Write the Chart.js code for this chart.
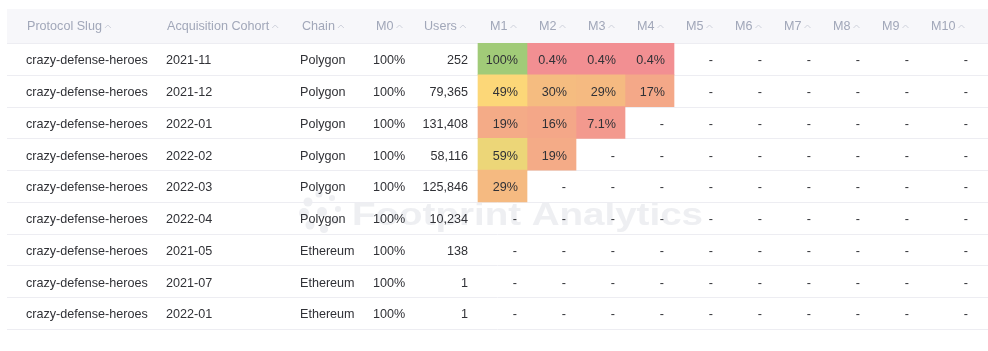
<!DOCTYPE html>
<html>
<head>
<meta charset="utf-8">
<script src="https://cdn.jsdelivr.net/npm/chart.js@4"></script>
<style>
  html,body{margin:0;padding:0;background:#fff;}
  #wrap{width:988px;height:351px;}
</style>
</head>
<body>
<div id="wrap"><canvas id="retention" width="988" height="351"></canvas></div>
<script>
// table data
const slugs   = ['crazy-defense-heroes','crazy-defense-heroes','crazy-defense-heroes','crazy-defense-heroes','crazy-defense-heroes','crazy-defense-heroes','crazy-defense-heroes','crazy-defense-heroes','crazy-defense-heroes'];
const cohorts = ['2021-11','2021-12','2022-01','2022-02','2022-03','2022-04','2021-05','2021-07','2022-01'];
const chains  = ['Polygon','Polygon','Polygon','Polygon','Polygon','Polygon','Ethereum','Ethereum','Ethereum'];
const m0      = [100,100,100,100,100,100,100,100,100];
const users   = [252,79365,131408,58116,125846,10234,138,1,1];
// retention by month (% of cohort), null = no data
const m1  = [100, 49, 19, 59, 29, null, null, null, null];
const m2  = [0.4, 30, 16, 19, null, null, null, null, null];
const m3  = [0.4, 29, 7.1, null, null, null, null, null, null];
const m4  = [0.4, 17, null, null, null, null, null, null, null];
const m5  = [null, null, null, null, null, null, null, null, null];
const m6  = [null, null, null, null, null, null, null, null, null];
const m7  = [null, null, null, null, null, null, null, null, null];
const m8  = [null, null, null, null, null, null, null, null, null];
const m9  = [null, null, null, null, null, null, null, null, null];
const m10 = [null, null, null, null, null, null, null, null, null];
const monthLabels = ['M1','M2','M3','M4','M5','M6','M7','M8','M9','M10'];
const months = [m1,m2,m3,m4,m5,m6,m7,m8,m9,m10];

// layout (x positions along the table axis)
const monthEdges = [478,527,576,625,674,723,772,821,870,919,977];
const textCols = [
  {title:'Protocol Slug',      hx:27,  vx:26,  align:'left',  vals: slugs},
  {title:'Acquisition Cohort', hx:167, vx:166, align:'left',  vals: cohorts},
  {title:'Chain',              hx:302, vx:300, align:'left',  vals: chains},
  {title:'M0',                 hx:376, vx:373, align:'left',  vals: m0.map(v=>v+'%')},
  {title:'Users',              hx:424, vx:468, align:'right', vals: users.map(v=>v.toLocaleString('en-US'))}
];

const FONT = '12.6px "Liberation Sans", Arial, sans-serif';
const TEXT = '#303136';
const HEAD = '#a1a7b9';

function heatColor(v){
  const stops = [[0,[242,142,146]],[30,[245,188,128]],[50,[252,216,120]],[100,[161,203,120]]];
  for(let i=1;i<stops.length;i++){
    if(v <= stops[i][0]){
      const [a,ca] = stops[i-1], [b,cb] = stops[i];
      const t = (v-a)/(b-a);
      const c = ca.map((x,k)=>Math.round(x+(cb[k]-x)*t));
      return `rgb(${c[0]},${c[1]},${c[2]})`;
    }
  }
  return 'rgb(161,203,120)';
}
function fmtPct(v){ return v + '%'; }

const rowLabels = cohorts.map((c,i)=>chains[i]+' '+c);

const datasets = months.map((vals,mi)=>({
  label: monthLabels[mi],
  data: vals.map(v => v==null ? null : [monthEdges[mi], monthEdges[mi+1]]),
  backgroundColor: vals.map(v => v==null ? 'rgba(0,0,0,0)' : heatColor(v)),
  borderWidth: 0,
  borderSkipped: false,
  barPercentage: 1,
  categoryPercentage: 1,
  grouped: false
}));

const tablePlugin = {
  id:'tableDecor',
  beforeDatasetsDraw(chart){
    const {ctx, scales:{x,y}} = chart;
    const band = y.getPixelForValue(1) - y.getPixelForValue(0);
    ctx.save();
    // header band
    ctx.fillStyle = '#f7f7fa';
    ctx.fillRect(x.getPixelForValue(7), 9, x.getPixelForValue(988)-x.getPixelForValue(7), y.getPixelForValue(0)-band/2-9);
    // watermark
    ctx.fillStyle = 'rgba(222,224,229,0.5)';
    const lx = 322, ly = 212;
    const dots = [[0,0,5],[-14,-10,4.5],[-3,-18,3.5],[10,-14,3],[16,-3,3],[13,9,3.5],[2,17,4],[-12,13,4.5],[-18,1,5]];
    dots.forEach(d=>{ ctx.beginPath(); ctx.arc(lx+d[0], ly+d[1], d[2], 0, Math.PI*2); ctx.fill(); });
    ctx.font = 'bold 32px "Liberation Sans", Arial, sans-serif';
    ctx.textBaseline = 'alphabetic';
    ctx.textAlign = 'left';
    const wm = 'Footprint Analytics';
    const w = ctx.measureText(wm).width;
    ctx.translate(352, 225);
    ctx.scale(351/w, 1);
    ctx.fillText(wm, 0, 0);
    ctx.restore();
    // row lines
    ctx.save();
    ctx.strokeStyle = '#ededf2';
    ctx.lineWidth = 1;
    for(let i=0;i<=rowLabels.length;i++){
      const yy = Math.round(y.getPixelForValue(0) - band/2 + i*band) + 0.5;
      ctx.beginPath();
      ctx.moveTo(x.getPixelForValue(7), yy);
      ctx.lineTo(x.getPixelForValue(988), yy);
      ctx.stroke();
    }
    ctx.restore();
  },
  afterDatasetsDraw(chart){
    const {ctx, scales:{x,y}} = chart;
    const headY = 27;
    ctx.save();
    ctx.font = FONT;
    ctx.textBaseline = 'middle';
    const caret = (tx)=>{
      ctx.save();
      ctx.strokeStyle = '#cfd2dc';
      ctx.lineWidth = 1;
      ctx.beginPath();
      ctx.moveTo(tx+3, headY+1);
      ctx.lineTo(tx+6, headY-2);
      ctx.lineTo(tx+9, headY+1);
      ctx.stroke();
      ctx.restore();
    };
    // headers
    const heads = textCols.map(c=>({t:c.title, x:c.hx}))
      .concat(monthLabels.map((m,i)=>({t:m, x:monthEdges[i]+12})));
    ctx.textAlign = 'left';
    heads.forEach(h=>{
      ctx.fillStyle = HEAD;
      const px = x.getPixelForValue(h.x);
      ctx.fillText(h.t, px, headY);
      caret(px + ctx.measureText(h.t).width);
    });
    // body cells
    ctx.fillStyle = TEXT;
    rowLabels.forEach((r,ri)=>{
      const cy = y.getPixelForValue(ri) + 1.8;
      textCols.forEach(c=>{
        ctx.textAlign = c.align;
        ctx.fillText(c.vals[ri], x.getPixelForValue(c.vx), cy);
      });
      ctx.textAlign = 'right';
      months.forEach((vals,mi)=>{
        const v = vals[ri];
        const last = mi === months.length-1;
        const rx = x.getPixelForValue(monthEdges[mi+1] - (v==null ? (last ? 9 : 10) : 9));
        ctx.fillText(v==null ? '-' : fmtPct(v), rx, cy);
      });
    });
    ctx.restore();
  }
};

new Chart(document.getElementById('retention'), {
  type:'bar',
  data:{ labels: rowLabels, datasets },
  options:{
    indexAxis:'y',
    responsive:false,
    animation:false,
    layout:{ padding:{ top:43, bottom:22, left:0, right:0 } },
    plugins:{ legend:{display:false}, tooltip:{enabled:false} },
    scales:{
      x:{ type:'linear', min:0, max:988, display:false },
      y:{ type:'category', display:false }
    }
  },
  plugins:[tablePlugin]
});
</script>
</body>
</html>
